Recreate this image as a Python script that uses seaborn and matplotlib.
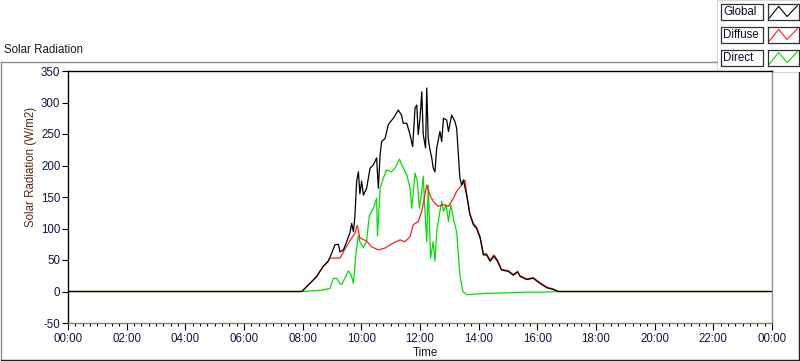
import matplotlib
matplotlib.use("Agg")
import matplotlib.pyplot as plt
import seaborn as sns
import pandas as pd
from matplotlib.patches import Rectangle
from matplotlib.lines import Line2D
from matplotlib.ticker import MultipleLocator, FixedLocator

# ---------------- data (hours of day, W/m2) ----------------
global_t = [0, 7.97, 8.25, 8.48, 8.70, 8.87, 8.99, 9.10, 9.22, 9.27, 9.39, 9.50, 9.61, 9.67,
            9.73, 9.78, 9.84, 9.90, 9.95, 10.01, 10.07, 10.18, 10.30, 10.41, 10.52, 10.58,
            10.64, 10.69, 10.81, 10.92, 11.09, 11.26, 11.37, 11.43, 11.55, 11.66, 11.75,
            11.83, 11.89, 11.94, 12.00, 12.06, 12.11, 12.19, 12.23, 12.28, 12.34, 12.40,
            12.45, 12.51, 12.57, 12.68, 12.74, 12.80, 12.91, 12.97, 13.08, 13.19, 13.25,
            13.36, 13.42, 13.48, 13.59, 13.70, 13.82, 13.93, 14.05, 14.16, 14.27, 14.39,
            14.52, 14.64, 14.78, 15.01, 15.18, 15.33, 15.41, 15.64, 15.86, 16.09, 16.32,
            16.55, 16.72, 24]
global_v = [0, 0, 13, 24, 40, 48, 61, 74, 75, 63, 66, 79, 93, 108,
            95, 119, 175, 190, 155, 175, 153, 164, 196, 201, 212, 164,
            217, 238, 243, 265, 275, 288, 280, 267, 267, 249, 230,
            291, 296, 249, 275, 317, 249, 228, 323, 243, 225, 212,
            196, 190, 228, 254, 238, 275, 272, 254, 280, 270, 259,
            180, 169, 177, 153, 122, 106, 100, 85, 58, 58, 48,
            56, 48, 34, 32, 26, 31, 24, 19, 21, 13, 6,
            3, 0, 0]

diffuse_t = [0, 7.97, 8.25, 8.48, 8.70, 8.82, 8.93, 9.05, 9.27, 9.50, 9.67, 9.78, 9.86, 9.95,
             10.18, 10.35, 10.58, 10.81, 11.09, 11.32, 11.49, 11.66, 11.77, 11.94, 12.06,
             12.23, 12.34, 12.45, 12.62, 12.80, 12.97, 13.14, 13.25, 13.42, 13.53, 13.59,
             13.70, 13.82, 13.93, 14.05, 14.16, 14.27, 14.39, 14.52, 14.64, 14.78, 15.01,
             15.18, 15.33, 15.41, 15.64, 15.86, 16.09, 16.32, 16.55, 16.72, 24]
diffuse_v = [0, 0, 13, 24, 40, 45, 53, 53, 53, 72, 85, 92, 105, 85,
             80, 71, 66, 69, 77, 82, 79, 87, 106, 111, 127,
             169, 153, 143, 135, 138, 135, 148, 159, 169, 177, 155,
             124, 108, 102, 87, 60, 60, 50, 58, 50, 35, 33,
             27, 32, 25, 20, 22, 14, 7, 4, 0, 0]

direct_t = [0, 7.97, 8.65, 8.93, 9.05, 9.16, 9.27, 9.33, 9.44, 9.56, 9.67, 9.73, 9.82, 9.90,
            9.95, 10.07, 10.18, 10.27, 10.41, 10.52, 10.55, 10.64, 10.75, 10.86, 11.03,
            11.15, 11.30, 11.41, 11.55, 11.66, 11.72, 11.83, 11.91, 11.98, 12.06, 12.11,
            12.17, 12.23, 12.28, 12.36, 12.45, 12.51, 12.57, 12.66, 12.74, 12.80, 12.89,
            12.97, 13.05, 13.16, 13.25, 13.36, 13.46, 13.59, 13.93, 14.27, 15.10, 15.70,
            16.20, 16.72, 24]
direct_v = [0, 0, 2, 5, 21, 21, 13, 11, 21, 33, 24, 13, 62, 89,
            79, 70, 80, 120, 132, 148, 88, 164, 180, 193, 190,
            196, 210, 198, 185, 164, 132, 188, 175, 132, 159, 183,
            127, 79, 169, 53, 79, 48, 95, 122, 143, 127, 138,
            111, 138, 111, 95, 26, 0, -5, -4, -3, -2, -1,
            -1, 0, 0]

series_names = ["Global", "Diffuse", "Direct"]
series_colors = {"Global": "#000000", "Diffuse": "#ff2020", "Direct": "#00e000"}
x_tick_pos = [0, 2, 4, 6, 8, 10, 12, 14, 16, 18, 20, 22, 24]
x_tick_labels = ["00:00", "02:00", "04:00", "06:00", "08:00", "10:00", "12:00",
                 "14:00", "16:00", "18:00", "20:00", "22:00", "00:00"]
y_ticks = [-50, 0, 50, 100, 150, 200, 250, 300, 350]
glyph_x = [0.05, 0.35, 0.62, 0.95]
glyph_y = [0.12, 0.85, 0.22, 0.90]

df = pd.concat([
    pd.DataFrame({"t": global_t, "v": global_v, "s": "Global"}),
    pd.DataFrame({"t": diffuse_t, "v": diffuse_v, "s": "Diffuse"}),
    pd.DataFrame({"t": direct_t, "v": direct_v, "s": "Direct"}),
], ignore_index=True)

# ---------------- style ----------------
sns.set_theme(style="white")
plt.rcParams["font.family"] = ["Liberation Sans", "DejaVu Sans"]
plt.rcParams["font.size"] = 8.3

W, H = 800, 361
def fx(px): return px / W
def fy(py): return 1 - py / H

fig = plt.figure(figsize=(8, 3.61), dpi=100)
fig.patch.set_facecolor("white")

ax = fig.add_axes([fx(68), fy(323), fx(772) - fx(68), fy(71) - fy(323)])

# draw order: direct, diffuse, global (global on top)
for name in ["Direct", "Diffuse", "Global"]:
    sub = df[df["s"] == name]
    sns.lineplot(data=sub, x="t", y="v", ax=ax, color=series_colors[name],
                 linewidth=0.9, estimator=None, sort=False, legend=False)

ax.set_xlim(0, 24)
ax.set_ylim(-50, 350)
ax.xaxis.set_major_locator(FixedLocator(x_tick_pos))
ax.set_xticklabels(x_tick_labels)
ax.xaxis.set_minor_locator(MultipleLocator(0.25))
ax.yaxis.set_major_locator(FixedLocator(y_ticks))
ax.set_yticklabels([str(v) for v in y_ticks])

tick_col = "#141446"
ax.tick_params(axis="x", which="major", direction="out", length=5, width=0.8,
               color="#000000", labelcolor=tick_col, labelsize=8.3, pad=2, bottom=True)
ax.tick_params(axis="x", which="minor", direction="out", length=2.5, width=0.8,
               color="#000000", bottom=True)
ax.tick_params(axis="y", which="major", direction="out", length=4, width=0.8,
               color="#000000", labelcolor=tick_col, labelsize=8.3, pad=1.5, left=True)

for side, col in [("left", "#000000"), ("top", "#000000"),
                  ("right", "#909090"), ("bottom", "#808080")]:
    ax.spines[side].set_visible(True)
    ax.spines[side].set_color(col)
    ax.spines[side].set_linewidth(1.0)

ax.set_xlabel("Time", color="#1a1a1a", fontsize=8.3)
ax.xaxis.set_label_coords(0.507, -0.094)
ax.set_ylabel("Solar Radiation (W/m2)", color="#5a2a08", fontsize=8.3)
ax.yaxis.set_label_coords(-0.044, 0.62)
ax.grid(False)

# ---------------- outer frame & title ----------------
frame_top = 61.5
fig.add_artist(Line2D([fx(0.5), fx(717)], [fy(frame_top), fy(frame_top)],
                      color="#8c8c8c", lw=1.0, transform=fig.transFigure))
fig.add_artist(Line2D([fx(0.7), fx(0.7)], [fy(frame_top), fy(360)],
                      color="#8c8c8c", lw=1.0, transform=fig.transFigure))
fig.add_artist(Line2D([fx(0.5), fx(799.5)], [fy(360), fy(360)],
                      color="#202020", lw=1.0, transform=fig.transFigure))
fig.add_artist(Line2D([fx(799.4), fx(799.4)], [fy(72), fy(360)],
                      color="#202020", lw=1.0, transform=fig.transFigure))
fig.text(fx(4), fy(50), "Solar Radiation", ha="left", va="center",
         fontsize=8.3, color="#1a1a1a")

# ---------------- legend ----------------
fig.add_artist(Rectangle((fx(717), fy(72)), fx(800) - fx(717), fy(0) - fy(72),
                         transform=fig.transFigure, facecolor="white",
                         edgecolor="#d8d8d8", lw=0.8, zorder=-5))
rows = [4, 27, 50]
for name, top in zip(series_names, rows):
    bot = top + 16
    fig.add_artist(Rectangle((fx(720.7), fy(bot)), fx(763) - fx(720.7), fy(top) - fy(bot),
                             transform=fig.transFigure, facecolor="white",
                             edgecolor="#303030", lw=0.9, zorder=2))
    fig.text(fx(723), fy(top + 8.3), name, ha="left", va="center",
             fontsize=8.3, color="#0a0a2a", zorder=3)
    iax = fig.add_axes([fx(767.7), fy(bot), fx(799) - fx(767.7), fy(top) - fy(bot)])
    iax.set_zorder(4)
    iax.plot(glyph_x, glyph_y, color=series_colors[name], lw=0.8)
    iax.set_xlim(0, 1)
    iax.set_ylim(0, 1)
    iax.set_xticks([])
    iax.set_yticks([])
    for s in iax.spines.values():
        s.set_visible(True)
        s.set_color("#303030")
        s.set_linewidth(0.9)
    iax.set_facecolor("white")

fig.savefig("out.png", dpi=100, facecolor="white")
